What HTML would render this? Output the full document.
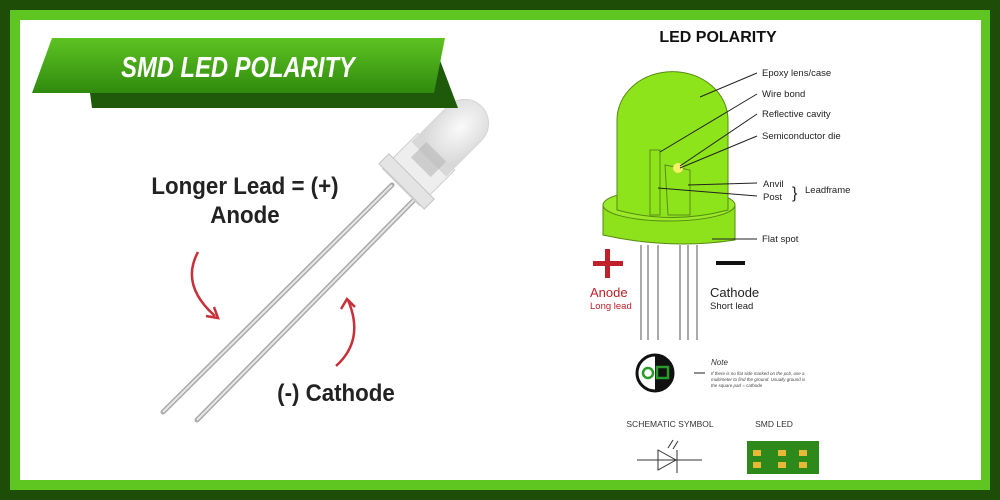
<!DOCTYPE html>
<html><head><meta charset="utf-8"><style>
body{margin:0;width:1000px;height:500px;overflow:hidden;background:#1e4d08;font-family:"Liberation Sans",sans-serif}
svg{display:block}
</style></head><body>
<svg width="1000" height="500" viewBox="0 0 1000 500" xmlns="http://www.w3.org/2000/svg">
<defs>
<linearGradient id="bg" x1="0" y1="0" x2="0" y2="1"><stop offset="0" stop-color="#5ec322"/><stop offset="1" stop-color="#2f8a0e"/></linearGradient>
<radialGradient id="bulb" cx="0.5" cy="0.4" r="0.6"><stop offset="0" stop-color="#fafafa"/><stop offset="1" stop-color="#d8d8d8"/></radialGradient>
</defs>
<rect width="1000" height="500" fill="#1e4d08"/>
<rect x="10" y="10" width="980" height="480" fill="#5fc520"/>
<rect x="20" y="20" width="961" height="460" fill="#fff"/>
<!-- left LED -->
<line x1="163" y1="412" x2="392" y2="185" stroke="#aaa" stroke-width="5" stroke-linecap="round"/>
<line x1="163" y1="412" x2="392" y2="185" stroke="#e6e6e6" stroke-width="2"/>
<line x1="197" y1="420" x2="414" y2="200" stroke="#aaa" stroke-width="5" stroke-linecap="round"/>
<line x1="197" y1="420" x2="414" y2="200" stroke="#e6e6e6" stroke-width="2"/>
<g transform="translate(408 180) rotate(45)">
<rect x="-26" y="-40" width="52" height="50" fill="#eee" stroke="#ccc"/>
<path d="M-24,-30 L-24,-80 A24,24 0 0 1 24,-80 L24,-30 Z" fill="url(#bulb)" stroke="#d6d6d6"/>
<rect x="-32" y="-5" width="64" height="14" fill="#e4e4e4" stroke="#c4c4c4"/>
<rect x="-14" y="-40" width="28" height="22" fill="#b8b8b8" opacity="0.6"/>
</g>
<!-- banner -->
<polygon points="90,93 447,93 458,108 92,108" fill="#1f5a0a"/>
<polygon points="438,55 458,108 445,108 430,93" fill="#1f5a0a"/>
<polygon points="52,38 445,38 434,93 32,93" fill="url(#bg)"/>
<text x="238" y="77" text-anchor="middle" font-size="29" font-weight="bold" font-style="italic" fill="#fff" transform="translate(238 0) scale(0.82 1) translate(-238 0)">SMD LED POLARITY</text>
<text x="245" y="194" text-anchor="middle" font-size="24" font-weight="bold" fill="#222" transform="translate(245 0) scale(0.93 1) translate(-245 0)">Longer Lead = (+)</text>
<text x="245" y="223" text-anchor="middle" font-size="24" font-weight="bold" fill="#222" transform="translate(245 0) scale(0.93 1) translate(-245 0)">Anode</text>
<text x="336" y="401" text-anchor="middle" font-size="24" font-weight="bold" fill="#222" transform="translate(336 0) scale(0.93 1) translate(-336 0)">(-) Cathode</text>
<path d="M198,252 Q180,285 215,316" fill="none" stroke="#c8303a" stroke-width="2.5"/>
<path d="M206,316 L218,318 L214,307" fill="none" stroke="#c8303a" stroke-width="2.5"/>
<path d="M336,366 Q365,340 348,300" fill="none" stroke="#c8303a" stroke-width="2.5"/>
<path d="M341,309 L347,299 L355,307" fill="none" stroke="#c8303a" stroke-width="2.5"/>
<!-- right diagram -->
<text x="718" y="42" text-anchor="middle" font-size="16" font-weight="bold" fill="#111">LED POLARITY</text>
<g stroke="#555" stroke-width="1" fill="none">
<line x1="641" y1="245" x2="641" y2="340"/><line x1="648" y1="245" x2="648" y2="340"/><line x1="658" y1="245" x2="658" y2="340"/>
<line x1="680" y1="245" x2="680" y2="340"/><line x1="688" y1="245" x2="688" y2="340"/><line x1="697" y1="245" x2="697" y2="340"/>
</g>
<path d="M603,205 L603,235 Q670,250 735,240 L735,205 Z" fill="#8ee21c" stroke="#558a10"/>
<ellipse cx="669" cy="205" rx="66" ry="16" fill="#9bea2a" stroke="#558a10"/>
<path d="M617,210 L617,120 A55,48 0 0 1 728,120 L728,210 Q672,225 617,210 Z" fill="#8ee41a" stroke="#558a10"/>
<path d="M650,150 L660,150 L660,215 L650,215 Z M665,165 L690,170 L690,215 L668,215 Z" fill="none" stroke="#5a8a20"/>
<circle cx="678" cy="168" r="5" fill="#f4f06a"/>
<g stroke="#222" stroke-width="1">
<line x1="700" y1="97" x2="757" y2="73"/><line x1="660" y1="152" x2="757" y2="94"/>
<line x1="680" y1="166" x2="757" y2="114"/><line x1="680" y1="168" x2="757" y2="136"/>
<line x1="688" y1="185" x2="757" y2="183"/><line x1="658" y1="188" x2="757" y2="196"/>
<line x1="712" y1="239" x2="757" y2="239"/>
</g>
<g font-size="9.5" fill="#222">
<text x="762" y="76">Epoxy lens/case</text><text x="762" y="97">Wire bond</text>
<text x="762" y="117">Reflective cavity</text><text x="762" y="139">Semiconductor die</text>
<text x="763" y="187">Anvil</text><text x="763" y="200">Post</text>
<text x="805" y="193">Leadframe</text><text x="762" y="242">Flat spot</text>
</g>
<text x="792" y="198" font-size="16" fill="#222">}</text>
<rect x="593" y="261" width="30" height="5" fill="#c0202a"/><rect x="605" y="249" width="5" height="29" fill="#c0202a"/>
<rect x="716" y="261" width="29" height="4" fill="#111"/>
<text x="590" y="297" font-size="13" fill="#c0202a">Anode</text>
<text x="590" y="309" font-size="9.5" fill="#c0202a">Long lead</text>
<text x="710" y="297" font-size="13" fill="#222">Cathode</text>
<text x="710" y="309" font-size="9.5" fill="#222">Short lead</text>
<circle cx="655" cy="373" r="18" fill="#fff" stroke="#111" stroke-width="3"/>
<path d="M655,355 A18,18 0 0 1 655,391 Z" fill="#111"/>
<circle cx="648" cy="373" r="5" fill="none" stroke="#2a9a2a" stroke-width="2.5"/>
<rect x="657" y="367" width="11" height="11" fill="none" stroke="#2a9a2a" stroke-width="2.5"/>
<line x1="694" y1="373" x2="705" y2="373" stroke="#222"/>
<text x="711" y="365" font-size="8" font-style="italic" fill="#333">Note</text>
<g font-size="4.5" font-style="italic" fill="#444">
<text x="711" y="375">If there is no flat side marked on the pcb, use a</text>
<text x="711" y="381">multimeter to find the ground. Usually ground is</text>
<text x="711" y="387">the square pad = cathode</text></g>
<text x="670" y="427" text-anchor="middle" font-size="8.5" fill="#333">SCHEMATIC SYMBOL</text>
<text x="774" y="427" text-anchor="middle" font-size="8.5" fill="#333">SMD LED</text>
<g stroke="#333" fill="none"><line x1="637" y1="460" x2="702" y2="460"/>
<path d="M658,450 L676,460 L658,470 Z"/><line x1="677" y1="450" x2="677" y2="473"/>
<line x1="668" y1="448" x2="673" y2="440"/><line x1="673" y1="449" x2="678" y2="441"/></g>
<rect x="747" y="441" width="72" height="33" fill="#2d8a1a"/>
<g fill="#e8b838"><rect x="753" y="450" width="8" height="6"/><rect x="753" y="462" width="8" height="6"/>
<rect x="778" y="450" width="8" height="6"/><rect x="778" y="462" width="8" height="6"/>
<rect x="799" y="450" width="8" height="6"/><rect x="799" y="462" width="8" height="6"/></g>
</svg>
</body></html>
